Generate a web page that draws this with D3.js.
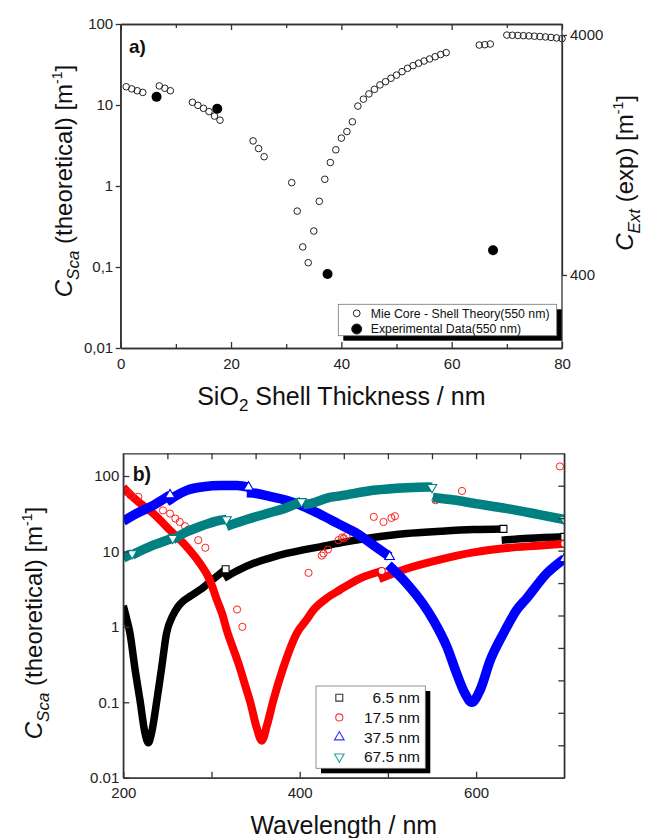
<!DOCTYPE html>
<html>
<head>
<meta charset="utf-8">
<script src="https://cdn.jsdelivr.net/npm/d3@7"></script>
<style>
  body { margin: 0; background: #fff; }
  svg { display: block; }
</style>
</head>
<body>
<svg id="chart" width="649" height="838"></svg>
<script>
const FONT = '"Liberation Sans", Arial, sans-serif'

// ---- panel a) : scattering vs shell thickness (550 nm)
const theoryThickness = [1, 2, 3, 4, 7, 8, 9, 13, 14, 15, 16, 17, 18, 24, 25, 26,
  31, 32, 33, 34, 35, 36, 37, 38, 39, 40, 41, 42, 43, 44, 45, 46, 47, 48, 49, 50,
  51, 52, 53, 54, 55, 56, 57, 58, 59, 65, 66, 67,
  70, 71, 72, 73, 74, 75, 76, 77, 78, 79, 80]
const theoryCsca = [16.8, 15.8, 15.0, 14.3, 17.2, 16.1, 15.0, 10.8, 9.9, 9.1, 8.3, 7.3, 6.5, 3.6, 2.9, 2.3,
  1.1, 0.49, 0.177, 0.113, 0.278, 0.647, 1.21, 1.95, 2.8, 3.9, 4.7, 6.2, 9.7, 11.8, 13.7, 15.6, 17.7, 19.4, 21.4, 23.4,
  25.8, 28.4, 30.6, 32.8, 34.9, 37, 39.4, 42, 44.3, 55, 55.5, 56.6,
  73, 72.6, 72.2, 71.8, 71.3, 70.7, 70, 69.2, 68.3, 67.3, 66]
const expThickness = [6.5, 17.5, 37.5, 67.5]
const expCext = [2210, 1970, 404, 507]

const topXTicks = [0, 20, 40, 60, 80]
const topXMinor = [10, 30, 50, 70]
const topYTicks = [0.01, 0.1, 1, 10, 100]
const topYLabels = ['0,01', '0,1', '1', '10', '100']
const topRightTicks = [400, 4000]
const topLegend = ['Mie Core - Shell Theory(550 nm)', 'Experimental Data(550 nm)']

// ---- panel b) : spectra for four shell thicknesses, each run split in segments
const wl65 = [
  [200, 204, 207.6, 213, 219, 224.6, 228.4, 232, 238, 243.5, 249, 256, 262, 268, 276, 287, 302, 316],
  [314, 330, 347, 365, 385, 404, 423, 449, 483, 521, 559, 597, 631],
  [629, 660, 700]
]
const cs65 = [
  [1.9, 1.25, 0.82, 0.29, 0.105, 0.039, 0.029, 0.039, 0.105, 0.29, 0.82, 1.4, 1.85, 2.2, 2.55, 3.1, 4.3, 5.8],
  [4.4, 5.6, 6.9, 8.1, 9.4, 10.5, 11.5, 13.2, 15.3, 17.3, 18.5, 19.5, 19.9],
  [14.1, 14.9, 15.6]
]
const wl175 = [
  [200, 215, 234, 253, 272, 287, 298, 306, 312, 318, 325, 332, 338, 344, 351, 357, 363, 370, 381.5, 396.7, 408, 415.5, 430.7, 445.8, 468.5, 493],
  [490, 521, 559, 597, 635, 670, 700]
]
const cs175 = [
  [71, 47.6, 31.8, 19.1, 11.5, 6.9, 4.2, 2.3, 1.5, 0.85, 0.5, 0.29, 0.17, 0.1, 0.047, 0.031, 0.05, 0.105, 0.29, 0.82, 1.25, 1.67, 2.4, 3.1, 4.4, 5.5],
  [4.3, 5.9, 7.8, 9.7, 11.1, 11.9, 12.6]
]
// scattered 17.5 nm points off the main curve
const wl175Scatter = [204, 208, 217, 245, 253, 259, 264, 270, 274, 285, 293, 329, 335, 410, 425, 427, 432, 444, 448, 450, 453, 484, 495, 504, 508, 554, 584, 695]
const cs175Scatter = [61, 55.5, 53, 35, 31.8, 27.3, 24.6, 21.6, 19.5, 14.1, 11.2, 1.7, 1.0, 5.2, 8.8, 9.4, 10.6, 14.1, 15.3, 14.9, 15.9, 28.7, 24.6, 27.8, 29.3, 47.7, 63.3, 134]
const wl375 = [
  [200, 215, 234, 253],
  [249, 260, 272, 291, 310, 329, 342],
  [340, 347, 366, 385, 404, 423, 444, 465, 483.5, 502],
  [500.6, 521.4, 540, 552, 567, 578, 587.5, 595, 604.6, 616, 631, 646, 657.5, 680, 700]
]
const cs375 = [
  [25.2, 31.8, 40.9, 56],
  [45.3, 55, 64.6, 72, 75, 75, 71],
  [60, 59.5, 53.8, 47.6, 39.7, 31.1, 23.2, 17.3, 12.1, 8.5],
  [6.6, 3.75, 2.0, 1.2, 0.54, 0.24, 0.13, 0.1, 0.146, 0.36, 0.82, 1.67, 2.4, 5.1, 8.0]
]
const wl675 = [
  [200, 210],
  [210, 234, 256],
  [256, 272, 291, 310, 317],
  [317, 340, 363, 385, 402],
  [404, 412, 434, 446, 483.5, 521, 546, 550],
  [551, 575, 597, 635, 670, 700]
]
const cs675 = [
  [8.2, 9.4],
  [9.0, 12.1, 15.0],
  [14.3, 18.2, 22.3, 25.9, 26.5],
  [21.5, 26.5, 31.8, 38, 46],
  [42, 43, 52, 54.5, 64.6, 70, 71.5, 71],
  [52, 48, 43.5, 37, 31, 26.5]
]
const seriesNames = ['6.5 nm', '17.5 nm', '37.5 nm', '67.5 nm']

const botXTicks = [200, 400, 600]
const botXMinor = [300, 500]
const botTopTicks = [250, 300, 350, 400, 450, 500, 550, 600, 650]
const botYTicks = [0.01, 0.1, 1, 10, 100]
const botYLabels = ['0.01', '0.1', '1', '10', '100']

// ---- layout
const svg = d3.select('#chart')
const AXIS = '#333'
const TOP = { x: 120.7, y: 24, w: 441.3, h: 324 }
const BOT = { x: 123.3, y: 453.3, w: 441, h: 324.4 }

function styleAxis(g, withText) {
  g.attr('font-family', FONT).attr('font-size', 15)
  g.select('.domain').attr('stroke', AXIS).attr('stroke-width', 1.3)
  g.selectAll('.tick line').attr('stroke', AXIS).attr('stroke-width', 1.3)
  g.selectAll('.tick text').attr('fill', '#222')
  if (!withText) g.selectAll('.tick text').remove()
}

function subTitle(sel, parts) {
  parts.forEach(p => {
    let t = sel.append('tspan').text(p.t)
    if (p.i) t.style('font-style', 'italic')
    if (p.s) t.style('font-size', p.s + 'px')
    if (p.dy) t.attr('dy', p.dy)
  })
}

// =============== panel a)
let gA = svg.append('g').attr('transform', `translate(${TOP.x},${TOP.y})`)

let xA = d3.scaleLinear().domain([0, 80]).range([0, TOP.w])
let yA = d3.scaleLog().domain([0.01, 100]).range([TOP.h, 0])
let yAR = d3.scaleLog().domain([400, 4000]).range([251, 11])

// theory points
gA.selectAll('circle.theory')
  .data(d3.zip(theoryThickness, theoryCsca))
  .join('circle')
  .attr('class', 'theory')
  .attr('cx', d => xA(d[0]))
  .attr('cy', d => yA(d[1]))
  .attr('r', 3.3)
  .attr('fill', 'none')
  .attr('stroke', '#222')
  .attr('stroke-width', 1)

// experimental points on right axis
gA.selectAll('circle.exp')
  .data(d3.zip(expThickness, expCext))
  .join('circle')
  .attr('class', 'exp')
  .attr('cx', d => xA(d[0]))
  .attr('cy', d => yAR(d[1]))
  .attr('r', 5)
  .attr('fill', '#000')

// axes
gA.append('g').attr('transform', `translate(0,${TOP.h})`)
  .call(d3.axisBottom(xA).tickValues(topXTicks).tickSizeInner(-6).tickSizeOuter(0).tickPadding(10).tickFormat(d3.format('d')))
  .call(g => styleAxis(g, true))
gA.append('g').attr('transform', `translate(0,${TOP.h})`)
  .call(d3.axisBottom(xA).tickValues(topXMinor).tickSizeInner(-4).tickSizeOuter(0))
  .call(g => styleAxis(g, false))
gA.append('g')
  .call(d3.axisTop(xA).tickValues(topXTicks).tickSizeInner(-6).tickSizeOuter(0))
  .call(g => styleAxis(g, false))
gA.append('g')
  .call(d3.axisTop(xA).tickValues(topXMinor).tickSizeInner(-4).tickSizeOuter(0))
  .call(g => styleAxis(g, false))
gA.append('g')
  .call(d3.axisLeft(yA).tickValues(topYTicks).tickSizeInner(5).tickSizeOuter(0).tickPadding(2.5)
    .tickFormat((d, i) => topYLabels[i]))
  .call(g => styleAxis(g, true))
gA.append('g').attr('transform', `translate(${TOP.w},0)`)
  .call(d3.axisRight(yAR).tickValues(topRightTicks).tickSizeInner(5).tickSizeOuter(0).tickPadding(3)
    .tickFormat(d3.format('d')))
  .call(g => styleAxis(g, true))
gA.append('line').attr('x1', 0).attr('x2', 0).attr('y1', 0).attr('y2', TOP.h)
  .attr('stroke', AXIS).attr('stroke-width', 1.3)
gA.append('line').attr('x1', TOP.w).attr('x2', TOP.w).attr('y1', 0).attr('y2', TOP.h)
  .attr('stroke', AXIS).attr('stroke-width', 1.3)

// legend a)
let lgA = svg.append('g').attr('transform', 'translate(338.3,304.3)')
lgA.append('rect').attr('x', 5).attr('y', 5).attr('width', 218.4).attr('height', 31.4).attr('fill', '#000')
lgA.append('rect').attr('width', 218.4).attr('height', 31.4).attr('fill', '#fff').attr('stroke', '#777').attr('stroke-width', 0.8)
topLegend.forEach((name, i) => {
  let cy = 9 + i * 15.7
  lgA.append('circle').attr('cx', 18.4).attr('cy', cy)
    .attr('r', i === 0 ? 3.4 : 5)
    .attr('fill', i === 0 ? 'none' : '#000')
    .attr('stroke', '#222').attr('stroke-width', 1)
  lgA.append('text').attr('x', 32.4).attr('y', cy).attr('dy', '0.36em')
    .attr('font-family', FONT).attr('font-size', 12.3).attr('fill', '#111').text(name)
})

// labels a)
svg.append('text').attr('x', 129).attr('y', 53)
  .attr('font-family', FONT).attr('font-size', 19).attr('font-weight', 'bold').attr('fill', '#111').text('a)')

let xtA = svg.append('text').attr('x', TOP.x + TOP.w / 2).attr('y', 405)
  .attr('text-anchor', 'middle').attr('font-family', FONT).attr('font-size', 25).attr('fill', '#111')
subTitle(xtA, [{ t: 'SiO' }, { t: '2', s: 17, dy: 6 }, { t: ' Shell Thickness / nm', dy: -6 }])

let ytA = svg.append('text').attr('transform', 'translate(72,181) rotate(-90)')
  .attr('text-anchor', 'middle').attr('font-family', FONT).attr('font-size', 24).attr('fill', '#111')
subTitle(ytA, [{ t: 'C', i: true }, { t: 'Sca', i: true, s: 17, dy: 7 }, { t: '  (theoretical) [m', dy: -7 },
  { t: '-1', s: 14, dy: -10 }, { t: ']', dy: 10 }])

let yrA = svg.append('text').attr('transform', 'translate(633,173) rotate(-90)')
  .attr('text-anchor', 'middle').attr('font-family', FONT).attr('font-size', 24).attr('fill', '#111')
subTitle(yrA, [{ t: 'C', i: true }, { t: 'Ext', i: true, s: 17, dy: 7 }, { t: ' (exp) [m', dy: -7 },
  { t: '-1', s: 14, dy: -10 }, { t: ']', dy: 10 }])

// =============== panel b)
let gB = svg.append('g').attr('transform', `translate(${BOT.x},${BOT.y})`)

let xB = d3.scaleLinear().domain([200, 700]).range([0, BOT.w])
let yB = d3.scaleLog().domain([0.01, 200]).range([BOT.h, 0])
let yBR = d3.scaleLinear().domain([0, 10]).range([BOT.h, 0])

svg.append('defs').append('clipPath').attr('id', 'clipB')
  .append('rect').attr('width', BOT.w).attr('height', BOT.h)

let plotB = gB.append('g').attr('clip-path', 'url(#clipB)')

let series = [
  { wl: wl65, cs: cs65, color: '#000000', width: 7.5, sym: d3.symbolSquare, size: 48, rot: 0 },
  { wl: wl175, cs: cs175, color: '#ff0000', width: 8, sym: d3.symbolCircle, size: 40, rot: 0 },
  { wl: wl375, cs: cs375, color: '#0000ff', width: 9.5, sym: d3.symbolTriangle, size: 40, rot: 0 },
  { wl: wl675, cs: cs675, color: '#008080', width: 9.5, sym: d3.symbolTriangle, size: 40, rot: 180 }
]

let band = d3.line()
  .x(d => xB(d[0]))
  .y(d => yB(d[1]))
  .curve(d3.curveMonotoneX)

series.forEach((s, k) => {
  let g = plotB.append('g')
  let segs = s.wl.map((w, i) => d3.zip(w, s.cs[i]))
  g.selectAll('path.band').data(segs).join('path')
    .attr('class', 'band')
    .attr('d', band)
    .attr('fill', 'none')
    .attr('stroke', s.color)
    .attr('stroke-width', s.width)
  // last marker of each run stays visible as an open symbol
  g.selectAll('path.end').data(segs.map(d => d[d.length - 1])).join('path')
    .attr('class', 'end')
    .attr('transform', d => `translate(${xB(d[0])},${yB(d[1])}) rotate(${s.rot})`)
    .attr('d', d3.symbol(s.sym, s.size))
    .attr('fill', '#fff')
    .attr('stroke', s.color)
    .attr('stroke-width', 1.1)
  if (k === 1) {
    plotB.append('g').selectAll('circle')
      .data(d3.zip(wl175Scatter, cs175Scatter))
      .join('circle')
      .attr('cx', d => xB(d[0]))
      .attr('cy', d => yB(d[1]))
      .attr('r', 3.6)
      .attr('fill', 'none')
      .attr('stroke', '#ff2020')
      .attr('stroke-width', 1)
  }
})

// axes b)
gB.append('g').attr('transform', `translate(0,${BOT.h})`)
  .call(d3.axisBottom(xB).tickValues(botXTicks).tickSizeInner(-6).tickSizeOuter(0).tickPadding(10).tickFormat(d3.format('d')))
  .call(g => styleAxis(g, true))
gB.append('g').attr('transform', `translate(0,${BOT.h})`)
  .call(d3.axisBottom(xB).tickValues(botXMinor).tickSizeInner(-6).tickSizeOuter(0))
  .call(g => styleAxis(g, false))
gB.append('g')
  .call(d3.axisTop(xB).tickValues(botTopTicks).tickSizeInner(-6).tickSizeOuter(0))
  .call(g => styleAxis(g, false))
gB.append('g')
  .call(d3.axisLeft(yB).tickValues(botYTicks).tickSizeInner(-6).tickSizeOuter(0).tickPadding(4)
    .tickFormat((d, i) => botYLabels[i]))
  .call(g => styleAxis(g, true))
gB.append('g').attr('transform', `translate(${BOT.w},0)`)
  .call(d3.axisRight(yBR).tickValues(d3.range(1, 10)).tickSizeInner(-6).tickSizeOuter(0))
  .call(g => styleAxis(g, false))
gB.append('line').attr('x1', 0).attr('x2', 0).attr('y1', 0).attr('y2', BOT.h)
  .attr('stroke', AXIS).attr('stroke-width', 1.3)
gB.append('line').attr('x1', BOT.w).attr('x2', BOT.w).attr('y1', 0).attr('y2', BOT.h)
  .attr('stroke', AXIS).attr('stroke-width', 1.3)

// legend b)
let lgB = svg.append('g').attr('transform', 'translate(316,686)')
lgB.append('rect').attr('x', 5).attr('y', 5).attr('width', 109.3).attr('height', 82.3).attr('fill', '#000')
lgB.append('rect').attr('width', 109.3).attr('height', 82.3).attr('fill', '#fff').attr('stroke', '#777').attr('stroke-width', 0.8)
seriesNames.forEach((name, i) => {
  let s = series[i]
  let cy = 11.7 + i * 19.7
  lgB.append('path')
    .attr('transform', `translate(23.3,${cy}) rotate(${s.rot})`)
    .attr('d', d3.symbol(s.sym, s.size))
    .attr('fill', 'none')
    .attr('stroke', s.color)
    .attr('stroke-opacity', 0.8)
    .attr('stroke-width', 1.1)
  lgB.append('text').attr('x', 104).attr('y', cy).attr('dy', '0.36em').attr('text-anchor', 'end')
    .attr('font-family', FONT).attr('font-size', 15.5).attr('fill', '#111').text(name)
})

// labels b)
svg.append('text').attr('x', 132.7).attr('y', 481)
  .attr('font-family', FONT).attr('font-size', 19.5).attr('font-weight', 'bold').attr('fill', '#111').text('b)')

svg.append('text').attr('x', BOT.x + BOT.w / 2).attr('y', 834)
  .attr('text-anchor', 'middle').attr('font-family', FONT).attr('font-size', 25).attr('fill', '#111')
  .text('Wavelength / nm')

let ytB = svg.append('text').attr('transform', 'translate(42,623) rotate(-90)')
  .attr('text-anchor', 'middle').attr('font-family', FONT).attr('font-size', 24).attr('fill', '#111')
subTitle(ytB, [{ t: 'C', i: true }, { t: 'Sca', i: true, s: 17, dy: 7 }, { t: '  (theoretical) [m', dy: -7 },
  { t: '-1', s: 14, dy: -10 }, { t: ']', dy: 10 }])
</script>
</body>
</html>
